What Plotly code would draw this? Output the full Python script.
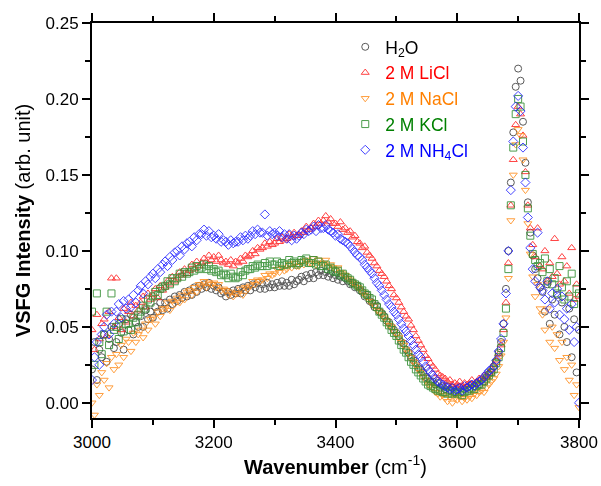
import plotly.graph_objects as go

# Shared wavenumber grid (cm^-1)
wavenumber = list(range(3000, 3801, 4))

h2o = [
    0.022, 0.040, 0.015, 0.035, 0.030,
    0.045, 0.027, 0.042, 0.050, 0.036,
    0.040, 0.052, 0.046, 0.035, 0.055,
    0.048, 0.058, 0.045, 0.053, 0.050,
    0.057, 0.050, 0.061, 0.055, 0.060,
    0.056, 0.063, 0.060, 0.066, 0.061,
    0.066, 0.062, 0.068, 0.065, 0.070,
    0.067, 0.071, 0.069, 0.073, 0.070,
    0.074, 0.071, 0.076, 0.073, 0.077,
    0.075, 0.078, 0.076, 0.079, 0.075,
    0.077, 0.074, 0.076, 0.072, 0.073,
    0.070, 0.073, 0.071, 0.074, 0.072,
    0.075, 0.072, 0.076, 0.074, 0.077,
    0.074, 0.078, 0.076, 0.079, 0.075,
    0.078, 0.075, 0.079, 0.076, 0.078,
    0.076, 0.079, 0.077, 0.080, 0.077,
    0.079, 0.077, 0.081, 0.078, 0.080,
    0.081, 0.083, 0.080, 0.084, 0.082,
    0.085, 0.082, 0.086, 0.084, 0.087,
    0.084, 0.086, 0.083, 0.085, 0.082,
    0.084, 0.081, 0.083, 0.080, 0.082,
    0.080, 0.078, 0.079, 0.076, 0.077,
    0.074, 0.073, 0.070, 0.071, 0.067,
    0.066, 0.063, 0.064, 0.060, 0.059,
    0.057, 0.054, 0.053, 0.050, 0.048,
    0.046, 0.044, 0.040, 0.039, 0.035,
    0.033, 0.030, 0.028, 0.026, 0.023,
    0.022, 0.020, 0.017, 0.016, 0.014,
    0.014, 0.012, 0.013, 0.010, 0.011,
    0.009, 0.011, 0.008, 0.010, 0.007,
    0.008, 0.010, 0.007, 0.009, 0.010,
    0.009, 0.012, 0.011, 0.013, 0.012,
    0.015, 0.014, 0.017, 0.019, 0.020,
    0.024, 0.027, 0.033, 0.040, 0.052,
    0.075, 0.100, 0.145, 0.178, 0.208,
    0.220, 0.212, 0.185, 0.158, 0.132,
    0.112, 0.097, 0.088, 0.082, 0.076,
    0.073, 0.060, 0.078, 0.052, 0.068,
    0.058, 0.071, 0.045, 0.066, 0.050,
    0.040, 0.062, 0.030, 0.055, 0.020,
    0.048,
]

licl = [
    0.048, 0.035, 0.058, 0.042, 0.052,
    0.055, 0.044, 0.060, 0.082, 0.050,
    0.082, 0.056, 0.048, 0.062, 0.053,
    0.060, 0.066, 0.057, 0.064, 0.061,
    0.066, 0.070, 0.063, 0.072, 0.068,
    0.071, 0.075, 0.069, 0.077, 0.074,
    0.076, 0.080, 0.078, 0.083, 0.080,
    0.082, 0.086, 0.084, 0.088, 0.085,
    0.087, 0.091, 0.088, 0.093, 0.090,
    0.092, 0.095, 0.093, 0.097, 0.094,
    0.096, 0.093, 0.097, 0.094, 0.092,
    0.093, 0.091, 0.094, 0.090, 0.093,
    0.092, 0.095, 0.093, 0.097, 0.096,
    0.097, 0.100, 0.098, 0.102, 0.101,
    0.102, 0.105, 0.103, 0.106, 0.104,
    0.105, 0.108, 0.106, 0.109, 0.107,
    0.108, 0.111, 0.109, 0.112, 0.110,
    0.110, 0.113, 0.112, 0.116, 0.114,
    0.115, 0.118, 0.116, 0.120, 0.118,
    0.120, 0.123, 0.119, 0.121, 0.118,
    0.118, 0.116, 0.119, 0.114, 0.115,
    0.112, 0.113, 0.109, 0.110, 0.106,
    0.105, 0.102, 0.103, 0.099, 0.097,
    0.095, 0.092, 0.090, 0.087, 0.085,
    0.083, 0.080, 0.077, 0.075, 0.071,
    0.069, 0.066, 0.063, 0.060, 0.057,
    0.055, 0.051, 0.048, 0.044, 0.041,
    0.038, 0.035, 0.031, 0.029, 0.026,
    0.024, 0.022, 0.019, 0.018, 0.017,
    0.016, 0.014, 0.015, 0.012, 0.013,
    0.012, 0.014, 0.011, 0.013, 0.012,
    0.013, 0.015, 0.012, 0.014, 0.016,
    0.016, 0.018, 0.017, 0.020, 0.022,
    0.025, 0.028, 0.032, 0.038, 0.048,
    0.066, 0.092, 0.130, 0.160, 0.183,
    0.195, 0.190, 0.176, 0.152, 0.130,
    0.115, 0.104, 0.096, 0.115, 0.090,
    0.088, 0.100, 0.080, 0.092, 0.083,
    0.108, 0.085, 0.078, 0.096, 0.080,
    0.090, 0.072, 0.102, 0.068, 0.078,
    0.070,
]

nacl = [
    0.000, -0.008, 0.012, 0.005, 0.020,
    0.015, 0.026, 0.010, 0.030, 0.022,
    0.032, 0.025, 0.038, 0.030, 0.042,
    0.040, 0.034, 0.046, 0.040, 0.045,
    0.048, 0.043, 0.052, 0.048, 0.055,
    0.056, 0.052, 0.060, 0.057, 0.062,
    0.062, 0.066, 0.061, 0.067, 0.065,
    0.069, 0.066, 0.071, 0.068, 0.073,
    0.074, 0.071, 0.076, 0.073, 0.078,
    0.077, 0.080, 0.076, 0.079, 0.078,
    0.079, 0.076, 0.078, 0.074, 0.075,
    0.074, 0.071, 0.073, 0.070, 0.072,
    0.072, 0.075, 0.071, 0.076, 0.075,
    0.077, 0.080, 0.078, 0.081, 0.080,
    0.081, 0.084, 0.082, 0.085, 0.084,
    0.085, 0.088, 0.086, 0.089, 0.087,
    0.088, 0.091, 0.089, 0.092, 0.090,
    0.090, 0.093, 0.091, 0.094, 0.092,
    0.092, 0.095, 0.091, 0.094, 0.092,
    0.092, 0.094, 0.090, 0.091, 0.089,
    0.088, 0.089, 0.086, 0.085, 0.084,
    0.082, 0.081, 0.079, 0.078, 0.076,
    0.075, 0.073, 0.071, 0.070, 0.067,
    0.066, 0.064, 0.061, 0.060, 0.058,
    0.056, 0.054, 0.051, 0.050, 0.047,
    0.045, 0.043, 0.040, 0.038, 0.035,
    0.033, 0.030, 0.027, 0.025, 0.022,
    0.020, 0.017, 0.015, 0.012, 0.011,
    0.010, 0.007, 0.006, 0.004, 0.005,
    0.003, 0.001, 0.004, 0.000, 0.003,
    0.002, 0.004, 0.001, 0.003, 0.002,
    0.004, 0.003, 0.006, 0.005, 0.007,
    0.008, 0.007, 0.010, 0.012, 0.014,
    0.016, 0.019, 0.024, 0.031, 0.040,
    0.056, 0.082, 0.120, 0.150, 0.170,
    0.180, 0.176, 0.160, 0.140, 0.118,
    0.098, 0.083, 0.070, 0.078, 0.062,
    0.058, 0.048, 0.062, 0.040, 0.050,
    0.036, 0.045, 0.028, 0.040, 0.022,
    0.030, 0.015, 0.025, 0.005, 0.012,
    -0.003,
]

kcl = [
    0.060, 0.025, 0.072, 0.040, 0.032,
    0.045, 0.060, 0.038, 0.072, 0.048,
    0.050, 0.042, 0.055, 0.047, 0.052,
    0.052, 0.048, 0.056, 0.053, 0.058,
    0.060, 0.064, 0.062, 0.068, 0.066,
    0.070, 0.073, 0.071, 0.075, 0.076,
    0.077, 0.080, 0.078, 0.082, 0.080,
    0.082, 0.085, 0.083, 0.086, 0.085,
    0.086, 0.089, 0.087, 0.090, 0.088,
    0.089, 0.091, 0.088, 0.090, 0.087,
    0.088, 0.086, 0.087, 0.084, 0.085,
    0.084, 0.082, 0.085, 0.083, 0.082,
    0.083, 0.086, 0.084, 0.087, 0.088,
    0.088, 0.090, 0.089, 0.091, 0.090,
    0.090, 0.092, 0.090, 0.093, 0.091,
    0.091, 0.093, 0.090, 0.092, 0.091,
    0.091, 0.094, 0.092, 0.093, 0.091,
    0.092, 0.094, 0.093, 0.095, 0.092,
    0.092, 0.094, 0.091, 0.093, 0.090,
    0.090, 0.091, 0.088, 0.089, 0.087,
    0.086, 0.087, 0.084, 0.085, 0.083,
    0.082, 0.081, 0.079, 0.078, 0.077,
    0.076, 0.074, 0.072, 0.071, 0.069,
    0.068, 0.065, 0.063, 0.060, 0.058,
    0.056, 0.053, 0.051, 0.048, 0.046,
    0.044, 0.041, 0.038, 0.035, 0.033,
    0.030, 0.027, 0.025, 0.022, 0.020,
    0.018, 0.016, 0.014, 0.012, 0.011,
    0.010, 0.009, 0.008, 0.008, 0.007,
    0.007, 0.006, 0.008, 0.006, 0.007,
    0.006, 0.007, 0.005, 0.007, 0.008,
    0.008, 0.010, 0.009, 0.011, 0.012,
    0.012, 0.014, 0.016, 0.018, 0.020,
    0.022, 0.026, 0.030, 0.036, 0.046,
    0.062, 0.088, 0.130, 0.168, 0.190,
    0.200, 0.195, 0.172, 0.150, 0.128,
    0.110, 0.098, 0.094, 0.090, 0.092,
    0.086, 0.095, 0.080, 0.088, 0.078,
    0.082, 0.072, 0.090, 0.076, 0.068,
    0.080, 0.070, 0.085, 0.065, 0.075,
    0.072,
]

nh4cl = [
    0.015, 0.030, 0.040, 0.025, 0.045,
    0.050, 0.058, 0.045, 0.060, 0.052,
    0.060, 0.065, 0.056, 0.067, 0.062,
    0.068, 0.063, 0.071, 0.066, 0.074,
    0.077, 0.072, 0.080, 0.078, 0.083,
    0.085, 0.082, 0.088, 0.086, 0.091,
    0.093, 0.090, 0.096, 0.094, 0.099,
    0.100, 0.097, 0.103, 0.101, 0.105,
    0.106, 0.103, 0.109, 0.107, 0.111,
    0.111, 0.114, 0.110, 0.113, 0.109,
    0.110, 0.108, 0.111, 0.106, 0.107,
    0.106, 0.104, 0.107, 0.105, 0.106,
    0.106, 0.109, 0.107, 0.110, 0.108,
    0.110, 0.113, 0.111, 0.114, 0.112,
    0.112, 0.124, 0.110, 0.113, 0.111,
    0.112, 0.110, 0.113, 0.109, 0.111,
    0.108, 0.111, 0.107, 0.110, 0.108,
    0.110, 0.112, 0.111, 0.114, 0.113,
    0.114, 0.116, 0.113, 0.117, 0.115,
    0.115, 0.117, 0.114, 0.113, 0.112,
    0.110, 0.111, 0.108, 0.107, 0.106,
    0.105, 0.103, 0.101, 0.099, 0.097,
    0.096, 0.094, 0.091, 0.089, 0.087,
    0.085, 0.082, 0.079, 0.077, 0.074,
    0.071, 0.068, 0.065, 0.063, 0.060,
    0.058, 0.055, 0.052, 0.049, 0.047,
    0.044, 0.041, 0.038, 0.035, 0.032,
    0.030, 0.027, 0.024, 0.022, 0.020,
    0.018, 0.016, 0.014, 0.013, 0.012,
    0.011, 0.010, 0.009, 0.010, 0.008,
    0.009, 0.010, 0.008, 0.011, 0.010,
    0.011, 0.012, 0.011, 0.013, 0.014,
    0.015, 0.017, 0.019, 0.021, 0.022,
    0.024, 0.028, 0.034, 0.042, 0.052,
    0.072, 0.100, 0.140, 0.172, 0.195,
    0.202, 0.192, 0.168, 0.145, 0.122,
    0.102, 0.088, 0.080, 0.112, 0.076,
    0.074, 0.068, 0.080, 0.062, 0.072,
    0.066, 0.075, 0.058, 0.070, 0.055,
    0.062, 0.048, 0.065, 0.040, 0.050,
    0.000,
]

series_names = ["H<sub>2</sub>O", "2 M LiCl", "2 M NaCl", "2 M KCl", "2 M NH<sub>4</sub>Cl"]
series_values = [h2o, licl, nacl, kcl, nh4cl]
series_symbols = ["circle-open", "triangle-up-open", "triangle-down-open", "square-open", "diamond-open"]
marker_colors = ["#3a3a3a", "#ff2020", "#ff8c1a", "#2e8b2e", "#2020ff"]
text_colors = ["#000000", "#ff0000", "#ff8000", "#008000", "#0000ff"]

FONT = "Arial, 'Liberation Sans', sans-serif"
X_RANGE = [3000, 3800]
Y_RANGE = [-0.01, 0.25]

fig = go.Figure()
for name, vals, sym, mcol, tcol in zip(series_names, series_values, series_symbols,
                                       marker_colors, text_colors):
    fig.add_trace(go.Scatter(
        x=wavenumber, y=vals, mode="markers",
        name=f'<span style="color:{tcol}">{name}</span>',
        marker=dict(symbol=sym, size=7, color=mcol, line=dict(width=1, color=mcol)),
        opacity=0.85,
    ))

fig.update_layout(
    width=601, height=486,
    margin=dict(l=92, r=22, t=23, b=68),
    plot_bgcolor="white", paper_bgcolor="white",
    font=dict(family=FONT, size=17, color="black"),
    showlegend=True,
    xaxis=dict(range=X_RANGE, tick0=3000, dtick=200, ticks="outside", ticklen=8, tickwidth=1.5,
               tickcolor="black", showline=True, mirror="allticks", linecolor="black", linewidth=2,
               showgrid=False, zeroline=False, automargin=False,
               minor=dict(dtick=100, ticks="outside", ticklen=5, tickwidth=1.5, tickcolor="black"),
               title=dict(text="<b>Wavenumber</b> (cm<sup>-1</sup>)", font=dict(size=20), standoff=8)),
    yaxis=dict(range=Y_RANGE, tick0=0, dtick=0.05, tickformat=".2f", ticks="outside", ticklen=8,
               tickwidth=1.5, tickcolor="black", showline=True, mirror="allticks", linecolor="black",
               linewidth=2, showgrid=False, zeroline=False, automargin=False,
               minor=dict(dtick=0.025, ticks="outside", ticklen=5, tickwidth=1.5, tickcolor="black"),
               title=dict(text="<b>VSFG Intensity</b> (arb. unit)", font=dict(size=20), standoff=10)),
    legend=dict(x=0.52, y=0.985, xanchor="left", yanchor="top", bgcolor="rgba(0,0,0,0)",
                font=dict(family=FONT, size=17.5), tracegroupgap=0),
)

fig.write_html("out.html", config={"displayModeBar": False},
               post_script="document.body.style.margin='0px';")
